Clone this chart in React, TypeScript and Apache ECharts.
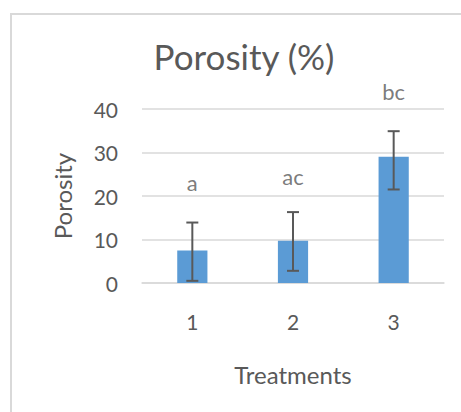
import React, { useEffect, useRef } from "react";
import * as echarts from "echarts";

const categories = ["1", "2", "3"];
const porosity = [7.5, 9.7, 29.0];
const errLow = [0.5, 2.8, 21.5];
const errHigh = [13.9, 16.3, 34.9];
const letters = ["a", "ac", "bc"];
const letterY = [23.0, 24.4, 44.1];
const yTicks = { min: 0, max: 40, interval: 10 };

const FONT = "Lato";
const TXT = "#595959";

export default function App() {
  const ref = useRef<HTMLDivElement>(null);
  useEffect(() => {
    if (!ref.current) return;
    const chart = echarts.init(ref.current, undefined, { renderer: "svg" });
    chart.setOption({
      animation: false,
      backgroundColor: "#ffffff",
      textStyle: { fontFamily: FONT, color: TXT },
      title: {
        text: "Porosity (%)",
        left: 239,
        textAlign: "center",
        top: 33,
        textStyle: { fontFamily: FONT, fontSize: 35, fontWeight: "normal", color: TXT },
      },
      graphic: [
        {
          type: "rect",
          shape: { x: 11, y: 14, width: 520, height: 460 },
          style: { fill: "none", stroke: "#d9d9d9", lineWidth: 2 },
          silent: true,
        },
      ],
      grid: { left: 142, right: 17, top: 109, bottom: 129 },
      xAxis: {
        type: "category",
        data: categories,
        axisLine: { show: true, lineStyle: { color: "#d9d9d9", width: 1.5 } },
        axisTick: { show: false },
        axisLabel: { color: TXT, fontSize: 21, fontFamily: FONT, margin: 28 },
        name: "Treatments",
        nameLocation: "middle",
        nameGap: 79,
        nameTextStyle: { color: TXT, fontSize: 24, fontFamily: FONT, verticalAlign: "top" },
      },
      yAxis: {
        type: "value",
        min: yTicks.min,
        max: yTicks.max,
        interval: yTicks.interval,
        axisLine: { show: false },
        axisTick: { show: false },
        splitLine: { lineStyle: { color: "#d9d9d9", width: 1.5 } },
        axisLabel: { color: TXT, fontSize: 21, fontFamily: FONT, margin: 24 },
        name: "Porosity",
        nameLocation: "middle",
        nameRotate: 90,
        nameGap: 68,
        nameTextStyle: { color: TXT, fontSize: 24, fontFamily: FONT },
      },
      series: [
        {
          type: "bar",
          data: porosity,
          barWidth: "30%",
          itemStyle: { color: "#5b9bd5" },
          z: 2,
        },
        {
          type: "custom",
          z: 3,
          data: categories.map((_, i) => [i, errLow[i], errHigh[i]]),
          encode: { x: 0, y: [1, 2] },
          renderItem: (params: any, api: any) => {
            const x = api.value(0);
            const lo = api.coord([x, api.value(1)]);
            const hi = api.coord([x, api.value(2)]);
            const half = 6;
            const style = { stroke: "#595959", lineWidth: 2 };
            return {
              type: "group",
              children: [
                { type: "line", shape: { x1: lo[0], y1: lo[1], x2: hi[0], y2: hi[1] }, style },
                { type: "line", shape: { x1: hi[0] - half, y1: hi[1], x2: hi[0] + half, y2: hi[1] }, style },
                { type: "line", shape: { x1: lo[0] - half, y1: lo[1], x2: lo[0] + half, y2: lo[1] }, style },
              ],
            };
          },
        },
        {
          type: "scatter",
          clip: false,
          symbolSize: 0,
          data: categories.map((_, i) => [i, letterY[i]]),
          label: {
            show: true,
            position: "inside",
            formatter: (p: any) => letters[p.dataIndex],
            color: TXT,
            fontSize: 22,
            fontFamily: FONT,
          },
          z: 4,
        },
      ],
    });
    return () => chart.dispose();
  }, []);
  return (
    <div
      ref={ref}
      style={{ position: "fixed", left: 0, top: 0, width: 461, height: 412 }}
    />
  );
}
